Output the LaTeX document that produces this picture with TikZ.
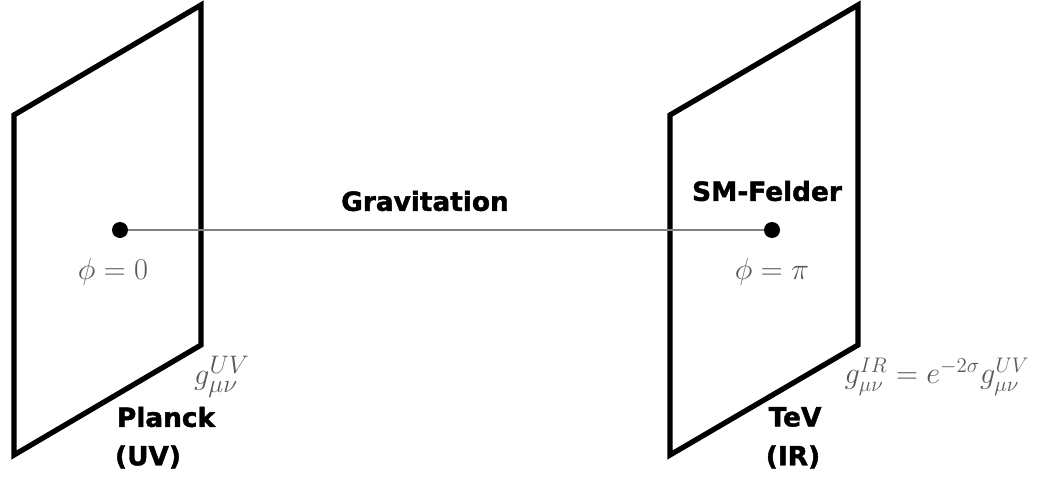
\documentclass[tikz,border=0pt]{standalone}
\usepackage{fontspec}
\newfontfamily\labelfont{DejaVu Sans}[BoldFeatures={FakeBold=1.6}]
\usetikzlibrary{
  calc, % Fuer Koordinatenrechnung
  positioning
}

\begin{document}
\begin{tikzpicture}[
      brane/.style={line width=3pt, black, line join=miter}, % Style fuer die Branen
      dot/.style={circle, fill=black, inner sep=0pt, minimum size=0.32cm}, % Punkte auf den Branen
      gravline/.style={black!50, line width=0.9pt}, % Verbindung zwischen den Branen
      bold/.style={font=\labelfont\bfseries\fontsize{15}{18}\selectfont, inner sep=0pt},
      mathlbl/.style={black!65, font=\fontsize{19}{23}\selectfont, inner sep=0pt},
    ]
    \useasboundingbox (0,0) rectangle (21.06,9.6);

    % Koordinaten der Planck-Brane
    \coordinate (A) at (0.28, 7.30);
    \coordinate (B) at (4.02, 9.50);
    \coordinate (C) at (4.02, 2.70);
    \coordinate (D) at (0.28, 0.50);

    % Koordinaten der TeV-Brane
    \coordinate (E) at (13.40, 7.30);
    \coordinate (F) at (17.16, 9.50);
    \coordinate (G) at (17.16, 2.70);
    \coordinate (H) at (13.40, 0.50);

    % Branen
    \draw[brane] (A) -- (B) -- (C) -- (D) -- cycle;
    \draw[brane] (E) -- (F) -- (G) -- (H) -- cycle;

    % Punkte und Gravitation
    \node[dot] (uv) at (2.40, 5.00) {};
    \node[dot] (ir) at (15.44, 5.00) {};
    \draw[gravline] (uv) -- (ir);
    \node[bold] (grav) at (8.50, 5.58) {Gravitation};
    \node[bold] (sm) at (15.34, 5.78) {SM-Felder};

    % Winkel
    \node[mathlbl] (phi0) at (2.26, 4.16) {$\phi = 0$};
    \node[mathlbl] (phipi) at (15.44, 4.16) {$\phi = \pi$};

    % Metriken
    \node[mathlbl] (guv) at (4.44, 2.06) {$g^{UV}_{\mu\nu}$};
    \node[mathlbl, font=\fontsize{17.6}{21}\selectfont] (gir) at (18.74, 2.06)
      {$g^{IR}_{\mu\nu} = e^{-2\sigma} g^{UV}_{\mu\nu}$};

    % Namen der Branen
    \node[bold] (planck) at (3.32, 1.26) {Planck};
    \node[bold] (uvname) at (2.96, 0.46) {(UV)};
    \node[bold] (tev) at (15.90, 1.26) {TeV};
    \node[bold] (irname) at (15.86, 0.46) {(IR)};
  \end{tikzpicture}
\end{document}
